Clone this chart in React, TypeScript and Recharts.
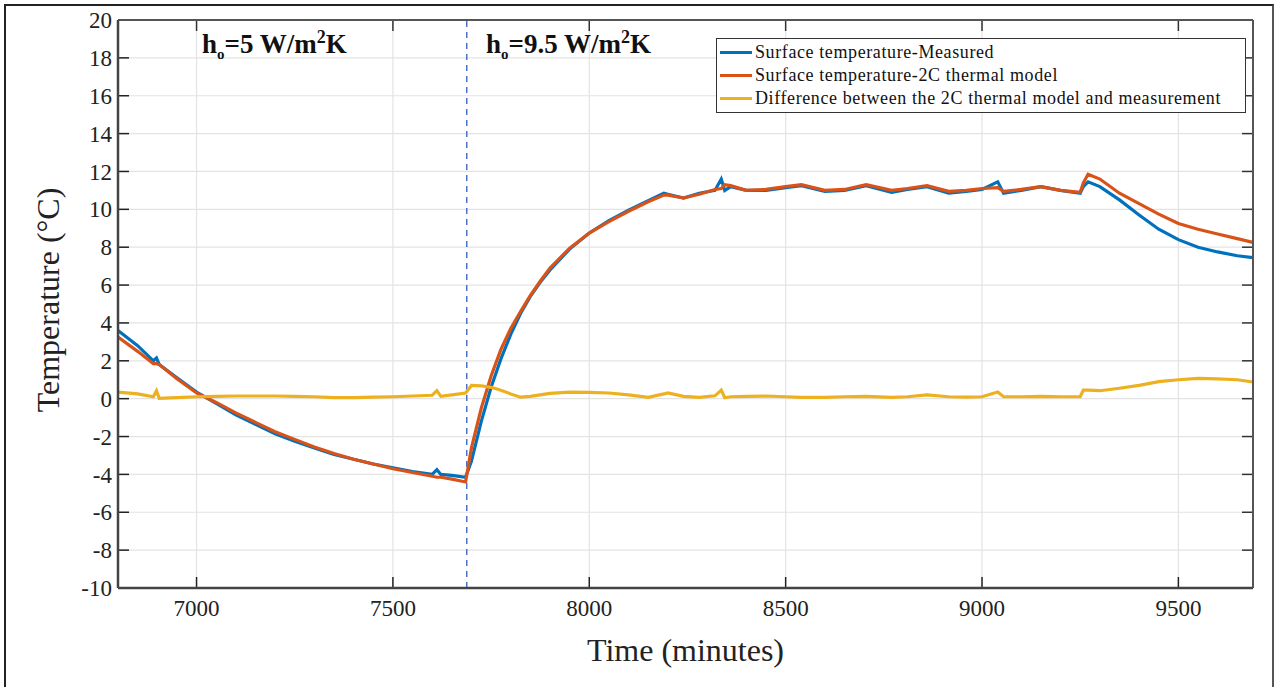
import { LineChart, Line, XAxis, YAxis, CartesianGrid, ReferenceLine } from 'recharts';

// time in minutes
const times = [
  6800, 6850, 6890, 6898, 6905, 6950, 7000, 7050, 7100, 7150, 7200, 7250, 7300, 7350, 7400, 7450,
  7500, 7550, 7600, 7612, 7622, 7650, 7685, 7700, 7725, 7750, 7775, 7800, 7825, 7850, 7875, 7900,
  7950, 8000, 8050, 8100, 8150, 8190, 8200, 8240, 8280, 8320, 8336, 8345, 8360, 8400, 8450, 8500,
  8540, 8600, 8650, 8705, 8770, 8810, 8860, 8915, 8960, 9000, 9040, 9055, 9100, 9150, 9200, 9250,
  9258, 9270, 9300, 9350, 9400, 9450, 9500, 9550, 9600, 9650, 9690,
];

const measured = [
  3.6, 2.8, 2.0, 2.15, 1.8, 1.1, 0.35, -0.25, -0.85, -1.35, -1.85, -2.25, -2.6, -2.95, -3.2, -3.45,
  -3.65, -3.85, -4.0, -3.75, -4.0, -4.05, -4.15, -3.3, -1.2, 0.6, 2.1, 3.4, 4.5, 5.4, 6.15, 6.8,
  7.9, 8.75, 9.4, 9.95, 10.45, 10.85, 10.8, 10.6, 10.85, 11.0, 11.6, 11.0, 11.2, 11.0, 11.0, 11.15,
  11.25, 10.95, 11.0, 11.25, 10.9, 11.05, 11.2, 10.85, 10.95, 11.05, 11.45, 10.85, 11.0, 11.2, 11.0, 10.85,
  11.2, 11.45, 11.2, 10.5, 9.7, 8.95, 8.4, 8.0, 7.75, 7.55, 7.45,
];

const model = [
  3.25, 2.5, 1.85, 1.85, 1.8, 1.05, 0.3, -0.2, -0.75, -1.25, -1.75, -2.15, -2.55, -2.9, -3.2, -3.45,
  -3.7, -3.9, -4.1, -4.15, -4.15, -4.25, -4.4, -2.6, -0.5, 1.2, 2.6, 3.7, 4.6, 5.45, 6.2, 6.9,
  7.95, 8.75, 9.35, 9.9, 10.4, 10.75, 10.75, 10.6, 10.8, 11.05, 11.1, 11.3, 11.25, 11.0, 11.05, 11.2,
  11.3, 11.0, 11.05, 11.3, 11.0, 11.1, 11.25, 10.95, 11.0, 11.1, 11.15, 10.95, 11.05, 11.2, 11.0, 10.9,
  11.4, 11.85, 11.6, 10.85, 10.3, 9.75, 9.25, 8.95, 8.7, 8.45, 8.25,
];

const difference = [
  0.35, 0.25, 0.1, 0.42, 0.02, 0.05, 0.1, 0.12, 0.14, 0.14, 0.14, 0.12, 0.1, 0.06, 0.05, 0.08,
  0.1, 0.14, 0.18, 0.42, 0.12, 0.2, 0.3, 0.7, 0.68, 0.6, 0.45, 0.25, 0.08, 0.12, 0.2, 0.28,
  0.35, 0.33, 0.3, 0.2, 0.07, 0.25, 0.3, 0.12, 0.07, 0.15, 0.45, 0.05, 0.1, 0.12, 0.14, 0.1,
  0.07, 0.07, 0.1, 0.12, 0.07, 0.1, 0.2, 0.1, 0.08, 0.1, 0.35, 0.1, 0.1, 0.12, 0.1, 0.1,
  0.45, 0.45, 0.42, 0.55, 0.7, 0.9, 1.0, 1.07, 1.05, 1.0, 0.88,
];

const xTicks = [7000, 7500, 8000, 8500, 9000, 9500];
const yTicks = [-10, -8, -6, -4, -2, 0, 2, 4, 6, 8, 10, 12, 14, 16, 18, 20];
const legendItems = [
  { name: 'Surface temperature-Measured', color: '#0072BD' },
  { name: 'Surface temperature-2C thermal model', color: '#D95319' },
  { name: 'Difference between the 2C thermal model and measurement', color: '#EDB120' },
];

const X_DOMAIN: [number, number] = [6800, 9690];
const Y_DOMAIN: [number, number] = [-10, 20];
// inward tick mark length, in axis units (about 11px)
const X_TICK_LEN = 28;
const Y_TICK_LEN = 0.58;

const data = times.map((t, i) => ({
  t,
  measured: measured[i],
  model: model[i],
  difference: difference[i],
}));

const FONT = '"Liberation Serif", "Times New Roman", serif';
const tickText = { fontFamily: 'Liberation Serif', fontSize: 23, fill: '#222' };

export default function App() {
  return (
    <div style={{ position: 'absolute', left: 0, top: 0, width: 1276, height: 687, background: '#fff', overflow: 'hidden' }}>
      <div
        style={{
          position: 'absolute',
          left: 4,
          top: 4,
          width: 1266,
          height: 700,
          borderTop: '2px solid #222',
          borderLeft: '2px solid #222',
          borderRight: '2px solid #555',
        }}
      />
      <LineChart
        width={1276}
        height={687}
        data={data}
        margin={{ top: 19, right: 22, bottom: 59, left: 58 }}
        style={{ position: 'absolute', left: 0, top: 0 }}
      >
        <CartesianGrid stroke="#e3e3e3" strokeWidth={1.2} />
        <XAxis
          dataKey="t"
          type="number"
          domain={X_DOMAIN}
          ticks={xTicks}
          allowDataOverflow
          height={40}
          tickSize={0}
          tickMargin={12}
          tickLine={false}
          axisLine={{ stroke: '#444', strokeWidth: 2.5 }}
          tick={tickText}
        />
        <XAxis
          xAxisId="top"
          dataKey="t"
          orientation="top"
          type="number"
          domain={X_DOMAIN}
          ticks={xTicks}
          allowDataOverflow
          height={1}
          tickLine={false}
          axisLine={{ stroke: '#555', strokeWidth: 2 }}
          tick={false}
        />
        <YAxis
          type="number"
          domain={Y_DOMAIN}
          ticks={yTicks}
          allowDataOverflow
          width={60}
          tickSize={0}
          tickMargin={6}
          tickLine={false}
          axisLine={{ stroke: '#444', strokeWidth: 2.5 }}
          tick={tickText}
        />
        <YAxis
          yAxisId="right"
          orientation="right"
          type="number"
          domain={Y_DOMAIN}
          ticks={yTicks}
          allowDataOverflow
          width={1}
          tickLine={false}
          axisLine={{ stroke: '#555', strokeWidth: 2 }}
          tick={false}
        />
        {xTicks.map((v) => (
          <ReferenceLine
            key={`xb${v}`}
            segment={[{ x: v, y: Y_DOMAIN[0] }, { x: v, y: Y_DOMAIN[0] + Y_TICK_LEN }]}
            stroke="#222"
            strokeWidth={1.5}
          />
        ))}
        {xTicks.map((v) => (
          <ReferenceLine
            key={`xt${v}`}
            segment={[{ x: v, y: Y_DOMAIN[1] }, { x: v, y: Y_DOMAIN[1] - Y_TICK_LEN }]}
            stroke="#333"
            strokeWidth={1.5}
          />
        ))}
        {yTicks.map((v) => (
          <ReferenceLine
            key={`yl${v}`}
            segment={[{ x: X_DOMAIN[0], y: v }, { x: X_DOMAIN[0] + X_TICK_LEN, y: v }]}
            stroke="#222"
            strokeWidth={1.5}
          />
        ))}
        {yTicks.map((v) => (
          <ReferenceLine
            key={`yr${v}`}
            segment={[{ x: X_DOMAIN[1], y: v }, { x: X_DOMAIN[1] - X_TICK_LEN, y: v }]}
            stroke="#333"
            strokeWidth={1.5}
          />
        ))}
        <ReferenceLine x={7688} stroke="#4a72c8" strokeWidth={1.5} strokeDasharray="6 5" />
        <Line dataKey="measured" stroke="#0072BD" strokeWidth={3.2} dot={false} isAnimationActive={false} />
        <Line dataKey="model" stroke="#D95319" strokeWidth={3.2} dot={false} isAnimationActive={false} />
        <Line
          dataKey="difference"
          xAxisId="top"
          yAxisId="right"
          stroke="#EDB120"
          strokeWidth={3.2}
          dot={false}
          isAnimationActive={false}
        />
      </LineChart>

      <div style={{ position: 'absolute', left: 202, top: 27, fontFamily: FONT, fontWeight: 'bold', fontSize: 27, color: '#111', whiteSpace: 'nowrap' }}>
        h<sub style={{ fontSize: 15 }}>o</sub>=5 W/m<sup style={{ fontSize: 18 }}>2</sup>K
      </div>
      <div style={{ position: 'absolute', left: 486, top: 27, fontFamily: FONT, fontWeight: 'bold', fontSize: 27, color: '#111', whiteSpace: 'nowrap' }}>
        h<sub style={{ fontSize: 15 }}>o</sub>=9.5 W/m<sup style={{ fontSize: 18 }}>2</sup>K
      </div>

      <div
        style={{
          position: 'absolute',
          left: 716,
          top: 38,
          width: 530,
          height: 75,
          boxSizing: 'border-box',
          border: '1.5px solid #333',
          background: '#fff',
          fontFamily: FONT,
          fontSize: 18,
          letterSpacing: 0.6,
          color: '#111',
          paddingTop: 2,
        }}
      >
        {legendItems.map((item) => (
          <div key={item.name} style={{ display: 'flex', alignItems: 'center', height: 23 }}>
            <div style={{ width: 32, height: 3, background: item.color, marginLeft: 3, marginRight: 3 }} />
            <span style={{ whiteSpace: 'nowrap' }}>{item.name}</span>
          </div>
        ))}
      </div>

      <div style={{ position: 'absolute', left: 0, width: 1276, top: 632, textAlign: 'center', paddingLeft: 95, boxSizing: 'border-box', fontFamily: FONT, fontSize: 32, color: '#222' }}>
        Time (minutes)
      </div>
      <div
        style={{
          position: 'absolute',
          left: 48,
          top: 300,
          transform: 'translate(-50%, -50%) rotate(-90deg)',
          fontFamily: FONT,
          fontSize: 32,
          color: '#222',
          whiteSpace: 'nowrap',
        }}
      >
        Temperature (°C)
      </div>
    </div>
  );
}
